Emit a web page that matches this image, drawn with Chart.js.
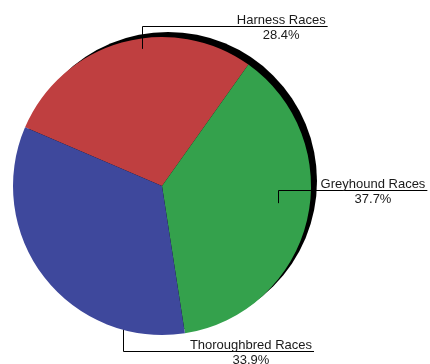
<!DOCTYPE html>
<html>
<head>
<meta charset="utf-8">
<script src="https://cdn.jsdelivr.net/npm/chart.js@4/dist/chart.umd.min.js"></script>
<style>
html,body{margin:0;padding:0;background:#fff;}
#wrap{width:430px;height:364px;position:relative;}
</style>
</head>
<body>
<div id="wrap"><canvas id="c" width="430" height="364"></canvas></div>
<script>
// Data
const categories = ["Harness Races", "Greyhound Races", "Thoroughbred Races"];
const values = [28.4, 37.7, 33.9];
const valueLabels = ["28.4%", "37.7%", "33.9%"];

// Styles
const colors = ["#BF3F40", "#34A14C", "#3E489C"];
// leader-line anchor: fraction of slice angle, fraction of radius
const anchorAngleFrac = [0.572, 0.464, 0.197];
const anchorRadiusFrac = [0.93, 0.787, 1.0];
// elbow y (relative to center, in radii) and label center x (relative to center, in radii)
const elbowY = [-1.074, 0.027, 1.107];
const labelCX = [0.80, 1.416, 0.597];

const FONT = '13px "Liberation Sans", Arial, sans-serif';

const shadowPlugin = {
  id: 'shadow',
  beforeDatasetsDraw(chart) {
    const arc = chart.getDatasetMeta(0).data[0];
    if (!arc) return;
    const ctx = chart.ctx;
    ctx.save();
    ctx.fillStyle = '#000';
    ctx.beginPath();
    ctx.arc(arc.x + 6, arc.y - 5, arc.outerRadius, 0, Math.PI * 2);
    ctx.fill();
    ctx.restore();
  }
};

const labelPlugin = {
  id: 'leaderLabels',
  afterDatasetsDraw(chart) {
    const ctx = chart.ctx;
    const meta = chart.getDatasetMeta(0);
    ctx.save();
    ctx.font = FONT;
    meta.data.forEach((arc, i) => {
      const r = arc.outerRadius;
      const a = arc.startAngle + (arc.endAngle - arc.startAngle) * anchorAngleFrac[i];
      const ax = arc.x + Math.cos(a) * r * anchorRadiusFrac[i];
      const ay = arc.y + Math.sin(a) * r * anchorRadiusFrac[i];
      const ey = arc.y + elbowY[i] * r;
      const cx = arc.x + labelCX[i] * r;
      const w = Math.max(ctx.measureText(categories[i]).width, ctx.measureText(valueLabels[i]).width);
      const rightX = cx + w / 2 + 2;
      ctx.strokeStyle = '#000';
      ctx.lineWidth = 1;
      ctx.beginPath();
      ctx.moveTo(Math.round(ax) + 0.5, ay);
      ctx.lineTo(Math.round(ax) + 0.5, Math.round(ey) + 0.5);
      ctx.lineTo(rightX, Math.round(ey) + 0.5);
      ctx.stroke();
      ctx.fillStyle = '#1a1a1a';
      ctx.textAlign = 'center';
      ctx.textBaseline = 'alphabetic';
      ctx.fillText(categories[i], cx, Math.round(ey) - 2);
      ctx.textBaseline = 'top';
      ctx.fillText(valueLabels[i], cx, Math.round(ey) + 3);
    });
    ctx.restore();
  }
};

new Chart(document.getElementById('c'), {
  type: 'pie',
  data: {
    labels: categories,
    datasets: [{
      data: values,
      backgroundColor: colors,
      borderWidth: 0
    }]
  },
  options: {
    responsive: false,
    animation: false,
    rotation: -66.8,
    layout: { padding: { left: 13, right: 119, top: 37, bottom: 29 } },
    plugins: { legend: { display: false }, tooltip: { enabled: false } }
  },
  plugins: [shadowPlugin, labelPlugin]
});
</script>
</body>
</html>
